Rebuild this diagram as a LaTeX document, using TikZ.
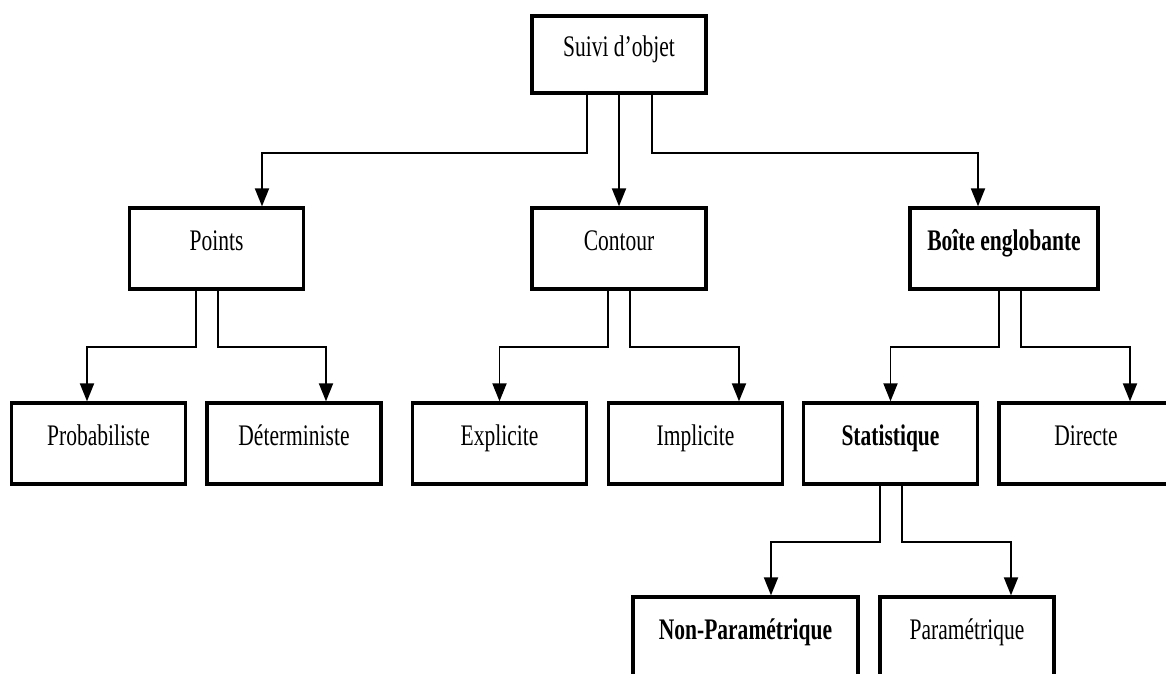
\documentclass[tikz,border=0pt]{standalone}
\usepackage{fontspec}
\setmainfont{Liberation Serif}[FakeStretch=0.72]
\usepackage{tikz}
\usetikzlibrary{arrows.meta}

\begin{document}
\begin{tikzpicture}[x=0.02cm, y=-0.02cm,
  box/.style={draw, line width=1.9pt, minimum width=3.48cm, minimum height=1.62cm, inner sep=0pt,
    text height=0.42cm, text depth=0.36cm, font=\fontsize{17}{20}\selectfont},
  conn/.style={line width=1.1pt, -{Triangle[length=0.36cm, width=0.28cm]}}]
  \useasboundingbox (0,0) rectangle (1166,673);
  \node[box, minimum height=1.54cm] (suivi) at (619,54.5) {Suivi d’objet};
  \node[box] (points) at (216.5,248.5) {Points};
  \node[box] (contour) at (619,248.5) {Contour};
  \node[box, minimum width=3.76cm] (boite) at (1004,248.5) {\bfseries Boîte englobante};
  \node[box] (prob) at (98.5,443.5) {Probabiliste};
  \node[box] (det) at (294,443.5) {Déterministe};
  \node[box] (expl) at (499.5,443.5) {Explicite};
  \node[box] (impl) at (695.5,443.5) {Implicite};
  \node[box] (stat) at (890.5,443.5) {\bfseries Statistique};
  \node[box] (dir) at (1086,443.5) {Directe};
  \node[box, minimum width=4.5cm] (nonpar) at (745.5,637.5) {\bfseries Non-Paramétrique};
  \node[box] (par) at (967,637.5) {Paramétrique};
  \draw[conn] (suivi.south) ++(-32,0) -- ++(0,58) -| ([xshift=0.91cm]points.north);
  \draw[conn] (suivi.south) -- (contour.north);
  \draw[conn] (suivi.south) ++(33,0) -- ++(0,58) -| ([xshift=-0.52cm]boite.north);
  \draw[conn] (points.south) ++(-20.5,0) -- ++(0,56) -| ([xshift=-0.23cm]prob.north);
  \draw[conn] (points.south) ++(1.5,0) -- ++(0,56) -| ([xshift=0.64cm]det.north);
  \draw[conn] (contour.south) ++(-11,0) -- ++(0,56) -| (expl.north);
  \draw[conn] (contour.south) ++(11,0) -- ++(0,56) -| ([xshift=0.87cm]impl.north);
  \draw[conn] (boite.south) ++(-5,0) -- ++(0,56) -| (stat.north);
  \draw[conn] (boite.south) ++(17,0) -- ++(0,56) -| ([xshift=0.88cm]dir.north);
  \draw[conn] (stat.south) ++(-10.5,0) -- ++(0,56) -| ([xshift=0.51cm]nonpar.north);
  \draw[conn] (stat.south) ++(11.5,0) -- ++(0,56) -| ([xshift=0.88cm]par.north);
\end{tikzpicture}
\end{document}
